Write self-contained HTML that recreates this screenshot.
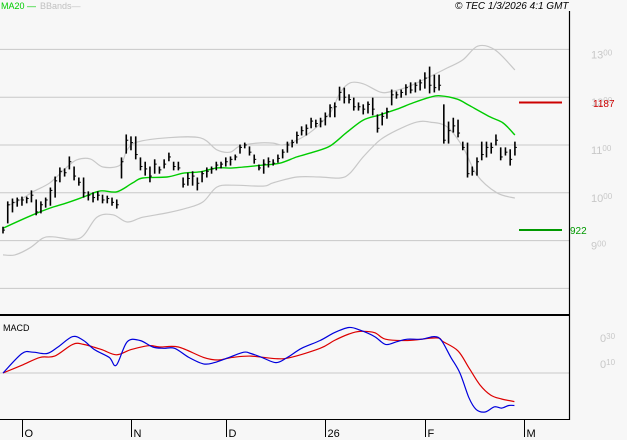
<!DOCTYPE html>
<html><head><meta charset="utf-8"><style>
html,body{margin:0;padding:0;background:#f7f7f7;}
body{width:627px;height:440px;overflow:hidden;font-family:"Liberation Sans",sans-serif;}
svg{display:block}
</style></head><body>
<svg id="chart" width="627" height="440" xmlns="http://www.w3.org/2000/svg" font-family="Liberation Sans, sans-serif">
<rect x="0" y="0" width="627" height="440" fill="#f7f7f7"/>
<g id="grid"></g>
<g id="bands"></g>
<g id="ma"></g>
<g id="bars"></g>
<g id="macd"></g>
<g id="axes"></g>
<text x="1" y="9" font-size="9" fill="#00cc00">MA20 —</text>
<text x="40" y="9" font-size="9" fill="#c0c0c0">BBands—</text>
<text x="455" y="9" font-size="10" font-style="italic" fill="#000">© TEC 1/3/2026 4:1 GMT</text>
<text x="3" y="331" font-size="9" fill="#000">MACD</text>
<line x1="519" y1="102.5" x2="562" y2="102.5" stroke="#cc0000" stroke-width="2"/>
<text x="593" y="107" font-size="10" fill="#cc0000">1187</text>
<line x1="519" y1="230" x2="562" y2="230" stroke="#009900" stroke-width="2"/>
<text x="570" y="234" font-size="10" fill="#009900">922</text>
</svg>
<script>
const highs=[928,981,987,989,991,991,1004,985,981,989,1010,1033,1052,1050,1075,1054,1031,1031,1002,1000,1002,995,993,989,985,1073,1121,1117,1117,1073,1064,1054,1069,1054,1069,1083,1064,1064,1031,1041,1044,1031,1044,1052,1054,1064,1064,1073,1075,1079,1100,1104,1096,1079,1058,1069,1073,1069,1079,1090,1106,1110,1127,1138,1142,1156,1152,1156,1167,1184,1188,1221,1219,1205,1198,1188,1184,1190,1198,1163,1167,1177,1215,1211,1215,1226,1230,1230,1236,1251,1263,1246,1246,1184,1148,1156,1152,1106,1104,1054,1073,1106,1106,1104,1121,1094,1094,1090,1106];
const lows=[916,937,960,972,974,979,981,954,958,970,974,991,1023,1035,1050,1027,1016,991,985,981,985,979,979,974,968,1031,1083,1090,1071,1048,1037,1023,1041,1041,1052,1067,1048,1048,1012,1016,1016,1006,1023,1033,1041,1048,1052,1056,1058,1069,1083,1094,1079,1062,1048,1041,1054,1058,1064,1073,1085,1096,1104,1121,1121,1136,1138,1138,1142,1159,1159,1194,1188,1188,1173,1173,1165,1167,1163,1127,1142,1156,1184,1198,1200,1205,1209,1211,1215,1219,1209,1211,1215,1104,1104,1127,1117,1090,1033,1037,1037,1069,1075,1083,1100,1069,1079,1058,1079];
const closes=[922,975,980,985,985,988,995,960,975,985,1005,1025,1045,1042,1065,1035,1022,1000,995,990,995,985,988,980,975,1065,1110,1105,1080,1055,1050,1035,1060,1048,1060,1075,1055,1052,1018,1030,1035,1020,1040,1045,1050,1058,1060,1065,1070,1075,1095,1100,1085,1070,1052,1060,1065,1062,1072,1085,1100,1105,1120,1130,1135,1150,1145,1150,1160,1178,1180,1210,1200,1195,1180,1180,1175,1185,1175,1135,1160,1170,1205,1205,1210,1220,1215,1225,1230,1240,1225,1220,1225,1110,1130,1140,1125,1095,1040,1045,1065,1080,1095,1095,1110,1075,1085,1070,1095];
const maDays=[0,6.3,9.9,13.5,16.9,20.5,24,27.4,29.5,34.6,38,41.6,45.1,48.5,54.9,58.4,62,65.4,69,72.6,76,79.5,83.1,86.5,90.1,92.2,95.8,98.5,102.7,105.5,108];
const maVals=[926,954,968,979,991,1004,1002,1021,1031,1033,1041,1044,1052,1052,1058,1062,1075,1085,1098,1127,1152,1163,1175,1188,1200,1203,1196,1182,1159,1146,1121];
const upDays=[0.8,3.6,6.3,9.9,13.5,15.6,18.4,21.1,24.7,26.2,28.3,34.6,41.6,45.1,47.9,50,53.6,57,59,62,65.4,69,71.1,73.2,76,79.5,81.6,85.2,88.6,93.7,97,100.2,103.8,108];
const upVals=[972,985,1002,1021,1054,1069,1071,1054,1058,1090,1106,1115,1115,1090,1085,1098,1104,1104,1100,1110,1131,1167,1209,1230,1228,1211,1211,1221,1236,1261,1278,1307,1299,1257];
const loDays=[0,2.5,5.7,8.4,10.5,16.2,19.8,23.2,26.2,29.5,34.6,38.8,42.2,45.1,48.5,54.9,57,62,66.9,71.1,73.2,76,79.5,83.1,87.3,90.1,93.7,97,100,104.2,108];
const loVals=[870,870,885,905,908,905,949,954,939,949,958,968,981,1012,1016,1014,1021,1033,1033,1031,1041,1075,1110,1131,1148,1148,1138,1096,1037,1000,989];
const macdDays=[0,4,6.3,9.3,11.6,14.7,17,19.3,22.4,23.9,26.2,28.9,31.6,33.9,36.2,39.2,42.3,44.6,47.7,50.8,52.3,54.6,57.6,60,63,66.9,69.9,73,75.3,78.4,80.7,83,85.3,88.3,91,92.5,94.5,96.4,98.3,99.8,101.7,103.7,105.2,106.7,107.9];
const macdVals=[0,0.15,0.16,0.15,0.2,0.28,0.25,0.18,0.12,0.06,0.24,0.25,0.2,0.19,0.19,0.12,0.07,0.08,0.12,0.16,0.15,0.12,0.08,0.12,0.19,0.25,0.31,0.35,0.33,0.28,0.22,0.24,0.26,0.26,0.28,0.25,0.12,0,-0.19,-0.28,-0.3,-0.26,-0.27,-0.25,-0.25];
const sigDays=[0,4,7.8,10.9,14.7,17,20.8,23.9,27,30.8,33.1,37,42.3,45.4,48.4,52.3,57.6,60.7,66.9,69.9,73,75.3,78.4,80.7,85.3,91.4,92.9,96,98.3,100.6,102.9,105.2,107.9];
const sigVals=[0,0.06,0.12,0.13,0.22,0.22,0.18,0.14,0.18,0.21,0.2,0.2,0.12,0.1,0.12,0.13,0.11,0.12,0.19,0.25,0.3,0.32,0.31,0.26,0.25,0.27,0.24,0.17,0.04,-0.09,-0.17,-0.2,-0.22];
const priceTicks=[1300,1200,1100,1000,900];
const priceTickHeads=["13","12","11","10","9"];
const macdTicks=[0.30,0.10];
const macdTickHeads=["0","0"];
const macdTickTails=["30","10"];
const monthLabels=["O","N","D","26","F","M"];
const monthDays=[4,27,47,68,89,110];

const NS="http://www.w3.org/2000/svg";
const xOf=d=>3+d*4.74;
const yP=p=>145-(p-1100)*0.478;
const yM=v=>373-v*130;
function mk(tag,attrs,parent){const e=document.createElementNS(NS,tag);for(const k in attrs)e.setAttribute(k,attrs[k]);parent.appendChild(e);return e;}
const grid=document.getElementById('grid');
[1300,1200,1100,1000,900,800].forEach(p=>{
  const l=mk('line',{x1:0,x2:569,y1:yP(p),y2:yP(p),stroke:'#c8c8c8','stroke-width':1},grid);
  
  
});
const zl=mk('line',{x1:0,x2:569,y1:yM(0),y2:yM(0),stroke:'#c8c8c8','stroke-width':1},grid);


function poly(days,vals,yf,color,w,parent,name){
  const P=days.map((d,i)=>[xOf(d),yf(vals[i])]);
  let s='M'+P[0][0].toFixed(1)+','+P[0][1].toFixed(1);
  for(let i=0;i<P.length-1;i++){
    const p0=P[Math.max(0,i-1)],p1=P[i],p2=P[i+1],p3=P[Math.min(P.length-1,i+2)];
    const c1=[p1[0]+(p2[0]-p0[0])/6,p1[1]+(p2[1]-p0[1])/6];
    const c2=[p2[0]-(p3[0]-p1[0])/6,p2[1]-(p3[1]-p1[1])/6];
    s+=' C'+c1[0].toFixed(1)+','+c1[1].toFixed(1)+' '+c2[0].toFixed(1)+','+c2[1].toFixed(1)+' '+p2[0].toFixed(1)+','+p2[1].toFixed(1);
  }
  const e=mk('path',{d:s,fill:'none',stroke:color,'stroke-width':w},parent);
  
  
}
const bands=document.getElementById('bands');
poly(upDays,upVals,yP,'#c8c8c8',1.2,bands,'bband-upper');
poly(loDays,loVals,yP,'#c8c8c8',1.2,bands,'bband-lower');
poly(maDays,maVals,yP,'#00cc00',1.4,document.getElementById('ma'),'ma20');
const bars=document.getElementById('bars');
highs.forEach((h,i)=>{
  const x=xOf(i);
  const g=mk('g',{},bars);
  
  
  mk('line',{x1:x,x2:x,y1:yP(h)-0.5,y2:yP(lows[i])+0.5,stroke:'#000','stroke-width':1.6},g);
  mk('line',{x1:x,x2:x+2,y1:yP(closes[i]),y2:yP(closes[i]),stroke:'#000','stroke-width':1},g);
});
const macd=document.getElementById('macd');
poly(sigDays,sigVals,yM,'#dd0000',1.2,macd,'macd-signal');
poly(macdDays,macdVals,yM,'#0000dd',1.2,macd,'macd-line');
const axes=document.getElementById('axes');
mk('line',{x1:569.5,x2:569.5,y1:11,y2:420,stroke:'#000','stroke-width':1.2},axes);
mk('line',{x1:0,x2:570,y1:315,y2:315,stroke:'#000','stroke-width':2},axes);
mk('line',{x1:0,x2:570,y1:419.5,y2:419.5,stroke:'#000','stroke-width':1},axes);
priceTicks.forEach((p,i)=>{
  const t=mk('text',{x:591,y:yP(p)+9,'font-size':11,fill:'#c8c8c8'},axes);
  
  
  t.textContent=priceTickHeads[i];
  const s=mk('tspan',{'font-size':8,dy:-3},t);s.textContent='00';
});
macdTicks.forEach((v,i)=>{
  const t=mk('text',{x:600,y:[342,368][i],'font-size':11,fill:'#c8c8c8'},axes);
  
  
  t.textContent=macdTickHeads[i];
  const s=mk('tspan',{'font-size':8,dy:-3},t);s.textContent=macdTickTails[i];
});
monthLabels.forEach((m,i)=>{
  const x=Math.round(xOf(monthDays[i]))+0.5;
  mk('line',{x1:x,x2:x,y1:419,y2:437,stroke:'#000','stroke-width':1},axes);
  const t=mk('text',{x:x+2,y:437,'font-size':11,fill:'#000'},axes);
  
  
  t.textContent=m;
});
</script>
</body></html>
